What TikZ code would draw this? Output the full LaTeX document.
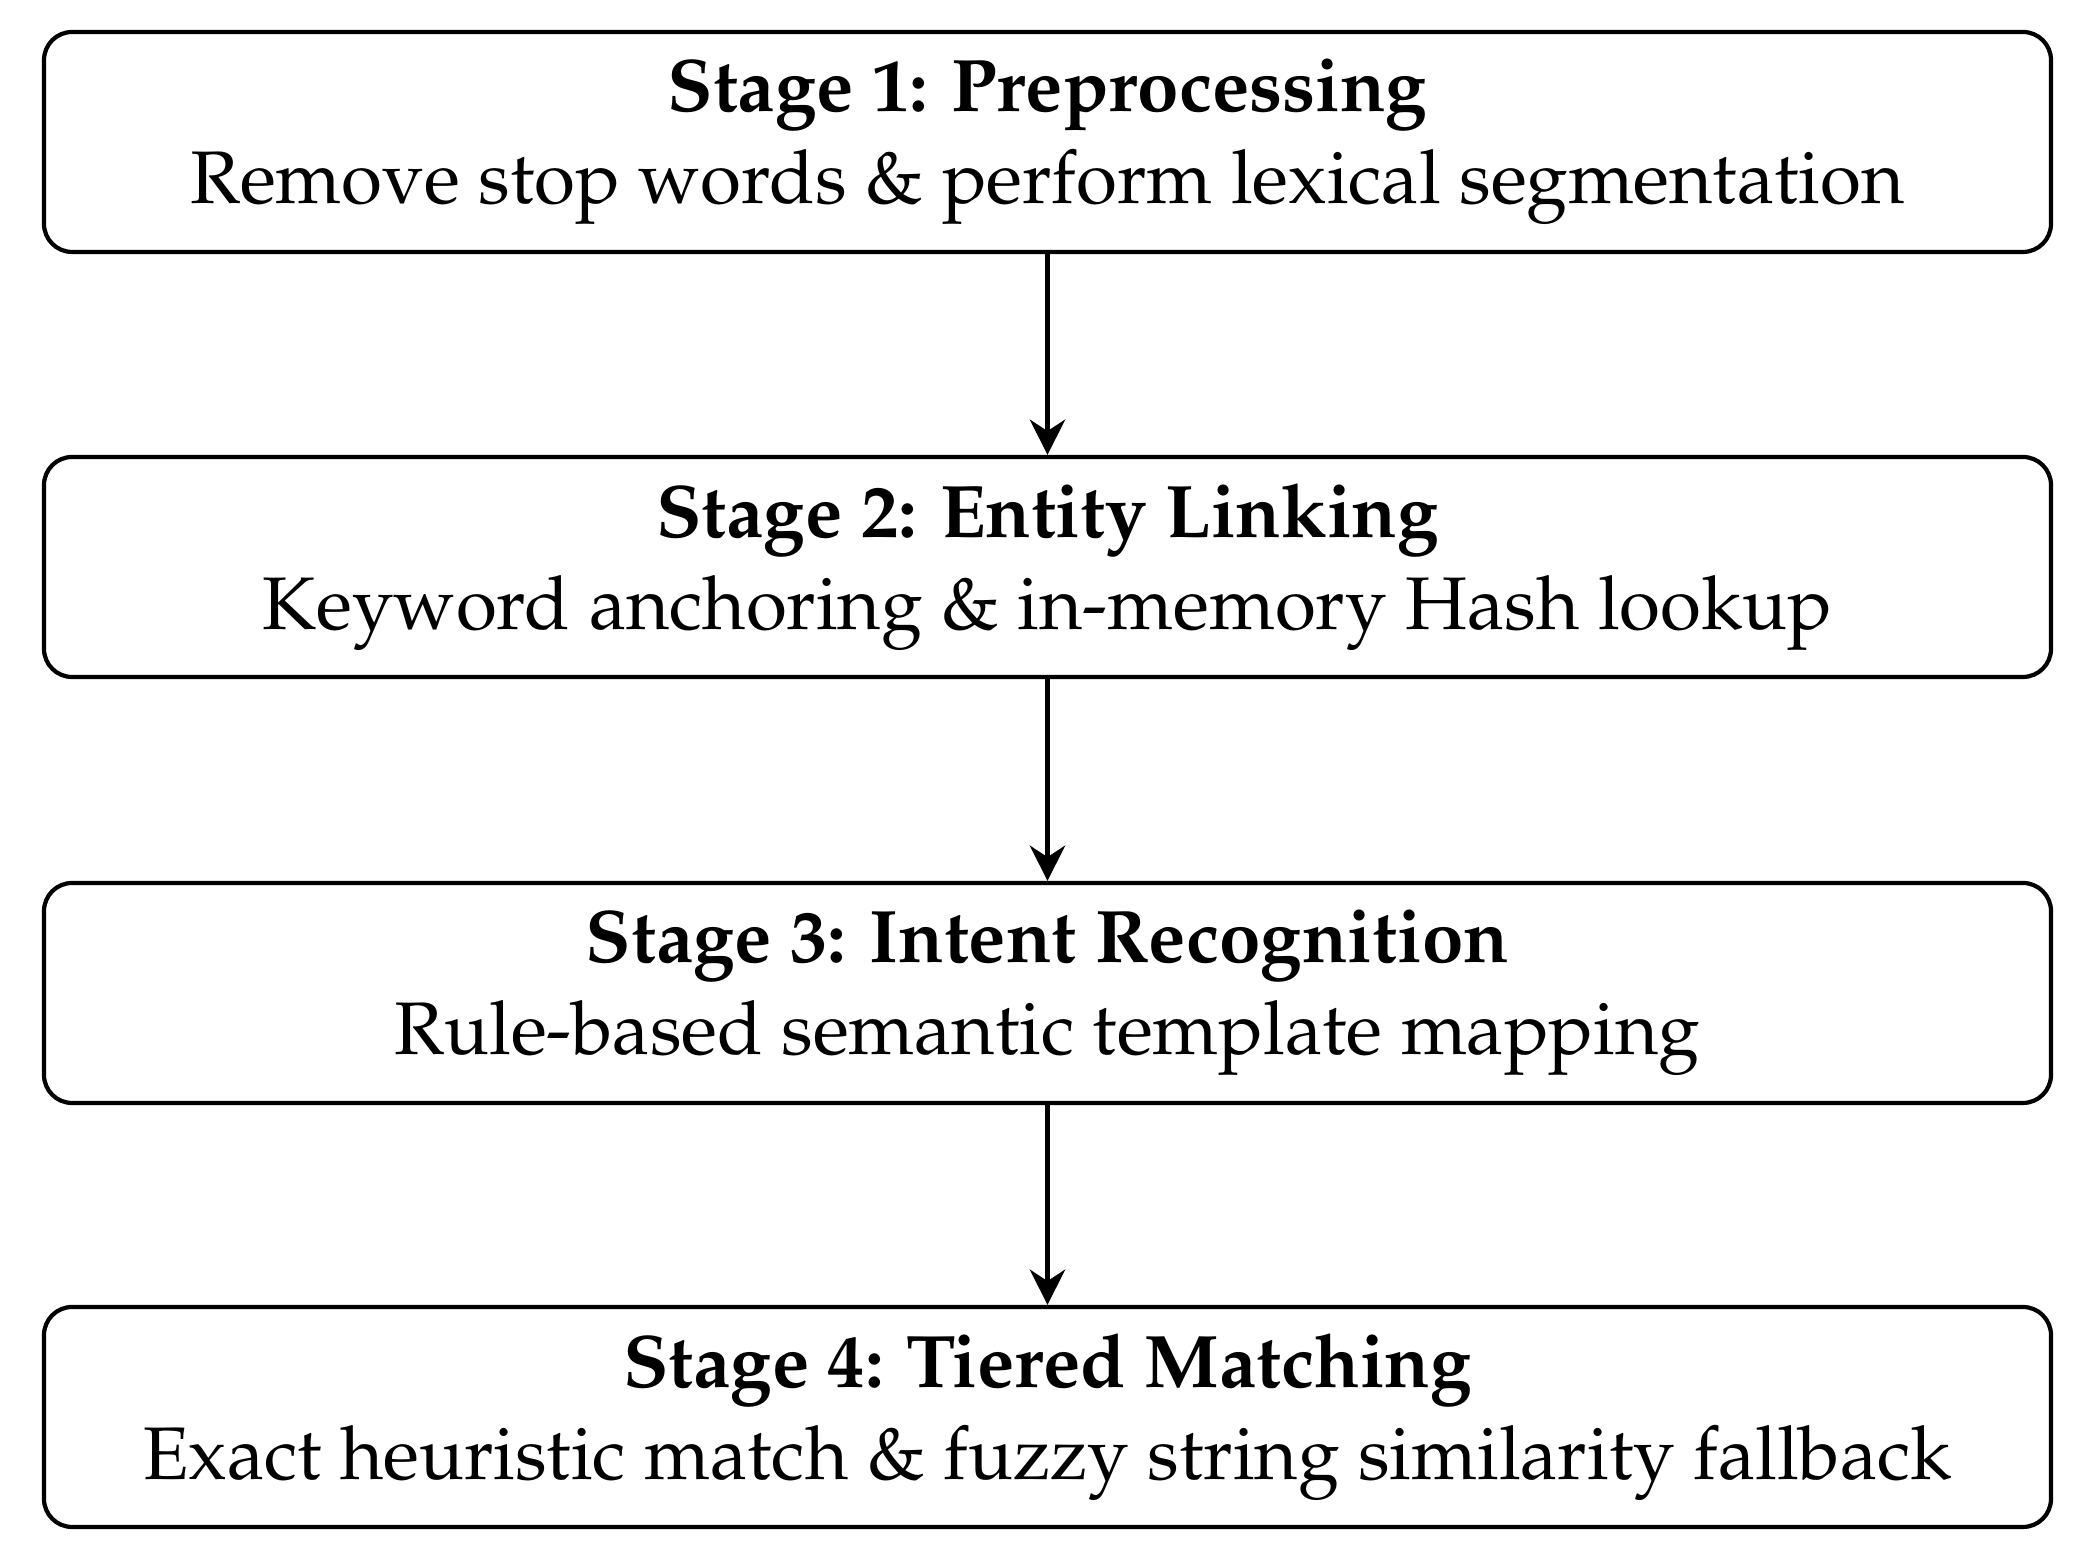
\documentclass[tikz,border=0pt]{standalone}
\usepackage[T1]{fontenc}
\usepackage{mathpazo}
\usepackage{tikz}
\usetikzlibrary{arrows.meta, positioning}

\begin{document}
\begin{tikzpicture}[
				stagebox/.style={draw=black, line width=0.6pt, rounded corners=4pt,
					minimum width=10.035cm, minimum height=1.1cm,
					align=center, font=\fontsize{10.6}{13}\selectfont},
				arr/.style={-{Stealth[length=5pt, width=5pt]}, line width=0.85pt}
				]
				\useasboundingbox (0,0) rectangle (10.44,-7.805);
				\node[stagebox] (pre)    at (5.2375,-0.71)  {\textbf{Stage 1: Preprocessing}\\Remove stop words \& perform lexical segmentation};
				\node[stagebox] (link)   at (5.2375,-2.835) {\textbf{Stage 2: Entity Linking}\\Keyword anchoring \& in-memory Hash lookup};
				\node[stagebox] (intent) at (5.2375,-4.965) {\textbf{Stage 3: Intent Recognition}\\Rule-based semantic template mapping};
				\node[stagebox] (match)  at (5.2375,-7.085) {\textbf{Stage 4: Tiered Matching}\\Exact heuristic match \& fuzzy string similarity fallback};
				\draw[arr] (pre)    -- (link);
				\draw[arr] (link)   -- (intent);
				\draw[arr] (intent) -- (match);
			\end{tikzpicture}
\end{document}
